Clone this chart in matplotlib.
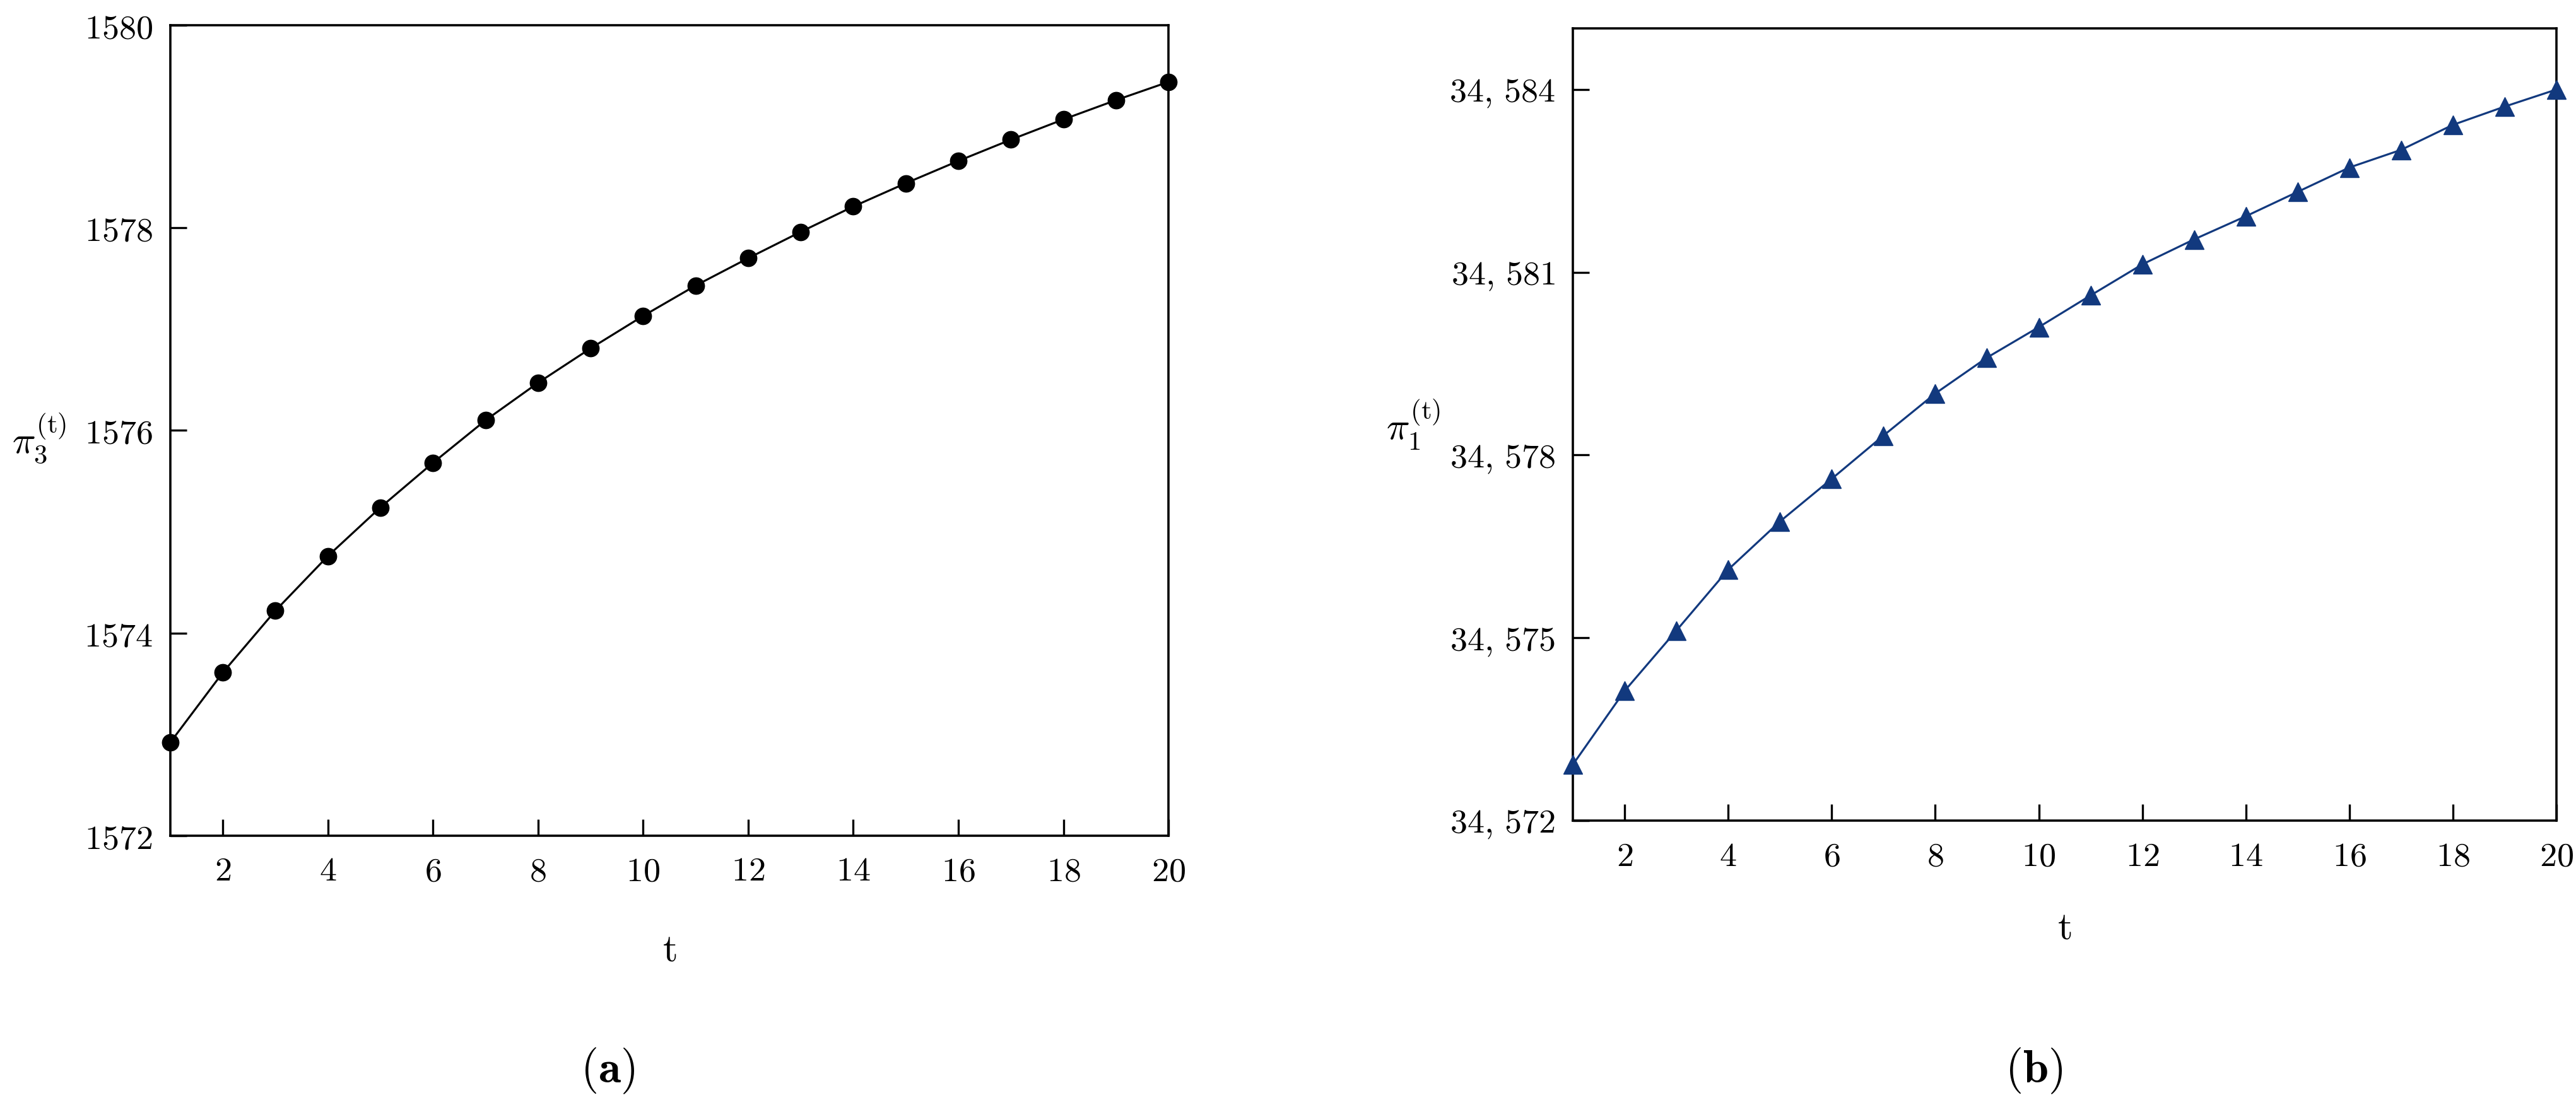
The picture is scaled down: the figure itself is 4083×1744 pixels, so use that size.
import matplotlib
matplotlib.use("Agg")
from matplotlib import pyplot as plt
from matplotlib.ticker import FuncFormatter

# -----------------------------------------------------------------------------------------
# Data

t = list(range(1, 21))

pi3 = [1572.92, 1573.61, 1574.22, 1574.76, 1575.24, 1575.68, 1576.10, 1576.47, 1576.81, 1577.13,
       1577.43, 1577.70, 1577.96, 1578.21, 1578.44, 1578.66, 1578.87, 1579.07, 1579.26, 1579.44]

pi1 = [34572.92, 34574.13, 34575.12, 34576.12, 34576.91, 34577.61, 34578.32, 34579.01, 34579.60, 34580.10,
       34580.62, 34581.13, 34581.54, 34581.92, 34582.32, 34582.72, 34583.01, 34583.42, 34583.72, 34584.00]

x_ticks = [2, 4, 6, 8, 10, 12, 14, 16, 18, 20]
left_y_ticks = [1572, 1574, 1576, 1578, 1580]
right_y_ticks = [34572, 34575, 34578, 34581, 34584]

# -----------------------------------------------------------------------------------------
# Style

plt.rcParams['mathtext.fontset'] = 'cm'
plt.rcParams['font.family'] = ['DejaVu Serif']

TICK_SIZE = 39
LABEL_SIZE = 44
BLUE = '#12397e'


def style_axes(ax):
    for side in ['left', 'right', 'top', 'bottom']:
        ax.spines[side].set_linewidth(2.6)
    ax.tick_params(direction='in', length=19, width=2.4, top=False, right=False,
                   labelsize=TICK_SIZE)
    ax.tick_params(axis='x', pad=22)
    ax.tick_params(axis='y', pad=20)
    ax.xaxis.set_major_formatter(FuncFormatter(lambda v, p: r'$%d$' % v))


def thousands(v, p):
    v = int(round(v))
    return r'$%d,\,%03d$' % (v // 1000, v % 1000)


fig = plt.figure(figsize=(40.83, 17.44), dpi=100)

# (a)
ax1 = fig.add_axes([0.0661, 0.2403, 0.3875, 0.7368])
ax1.plot(t, pi3, color='black', lw=2.3, marker='o', markersize=19, clip_on=False, zorder=3)
ax1.set_xlim(1, 20)
ax1.set_ylim(1572, 1580)
ax1.set_xticks(x_ticks)
ax1.set_yticks(left_y_ticks)
style_axes(ax1)
ax1.yaxis.set_major_formatter(FuncFormatter(lambda v, p: r'$%d$' % v))
ax1.set_xlabel(r'$\mathrm{t}$', fontsize=LABEL_SIZE)
ax1.xaxis.set_label_coords(0.5, -0.118)
ax1.set_ylabel(r'$\pi_3^{(\mathrm{t})}$', fontsize=LABEL_SIZE, rotation=0, va='center', ha='center')
ax1.yaxis.set_label_coords(-0.131, 0.49)

# (b)
ax2 = fig.add_axes([0.6106, 0.254, 0.3818, 0.720])
ax2.plot(t, pi1, color=BLUE, lw=2.3, marker='^', markersize=21, clip_on=False, zorder=3)
ax2.set_xlim(1, 20)
ax2.set_ylim(34572, 34585)
ax2.set_xticks(x_ticks)
ax2.set_yticks(right_y_ticks)
style_axes(ax2)
ax2.yaxis.set_major_formatter(FuncFormatter(thousands))
ax2.set_xlabel(r'$\mathrm{t}$', fontsize=LABEL_SIZE)
ax2.xaxis.set_label_coords(0.5, -0.112)
ax2.set_ylabel(r'$\pi_1^{(\mathrm{t})}$', fontsize=LABEL_SIZE, rotation=0, va='center', ha='center')
ax2.yaxis.set_label_coords(-0.162, 0.5)

fig.text(0.2359, 0.0264, r'$(\mathbf{a})$', fontsize=52, ha='center', va='center')
fig.text(0.7896, 0.0264, r'$(\mathbf{b})$', fontsize=52, ha='center', va='center')

fig.savefig('out.png', dpi=100)
